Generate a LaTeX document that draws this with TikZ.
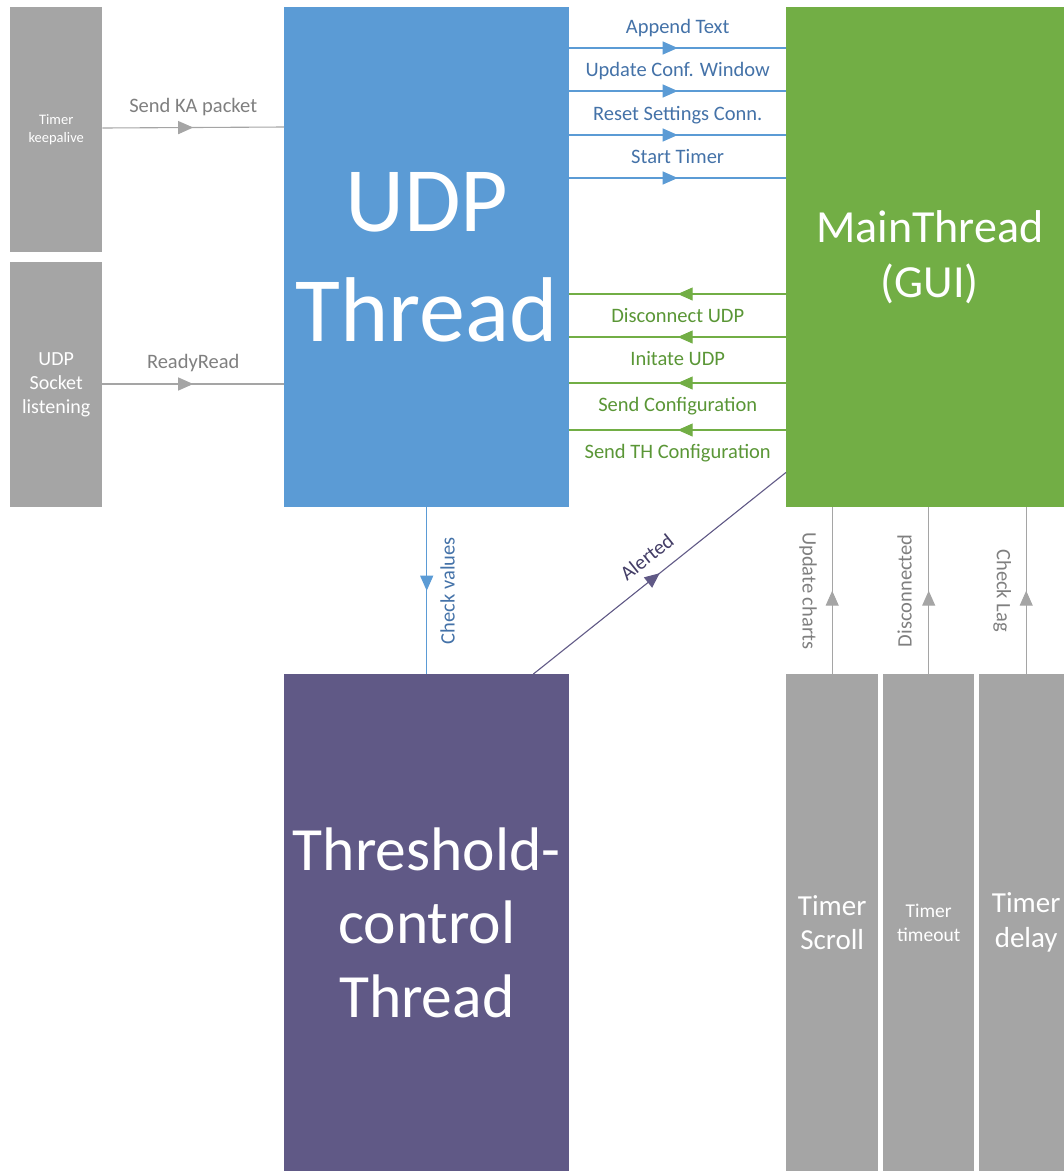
\documentclass[tikz,border=0pt]{standalone}
\usepackage{fontspec}
\setmainfont{Carlito}
\usetikzlibrary{arrows.meta,decorations.markings}

\definecolor{udpblue}{HTML}{5B9BD5}
\definecolor{bluetext}{HTML}{4472A8}
\definecolor{guigreen}{HTML}{72AE45}
\definecolor{greentext}{HTML}{5A9636}
\definecolor{timergray}{HTML}{A5A5A5}
\definecolor{graytext}{HTML}{7F7F7F}
\definecolor{thpurple}{HTML}{605986}
\definecolor{purpletext}{HTML}{433D66}

\newcommand{\fsz}[1]{\fontsize{#1pt}{1.2\dimexpr #1pt\relax}\selectfont}

\tikzset{
  block/.style={draw=none, inner sep=0pt, anchor=north west, text=white, align=center},
  midtip/.style={postaction={decorate}, decoration={markings,
      mark=at position 0.5 with {\arrow{Triangle[length=15pt,width=13pt]}}}},
  signal/.style={line width=1.1pt, midtip},
  lbl/.style={font=\fsz{20.5}, inner sep=0pt},
}

\begin{document}
\begin{tikzpicture}[x=1pt, y=-1pt]
\useasboundingbox (0,0) rectangle (1064,1171);
\clip (0,0) rectangle (1064,1171);

% thread blocks
\node[block, fill=udpblue, minimum width=285pt, minimum height=500pt, font=\fsz{92}]
  (udp) at (284,7) {UDP\\Thread};
\node[block, fill=guigreen, minimum width=287pt, minimum height=500pt, font=\fsz{46}]
  (gui) at (786,7) {MainThread\\(GUI)};
\node[block, fill=thpurple, minimum width=285pt, minimum height=497pt, font=\fsz{61.5}]
  (thr) at (284,674) {Threshold-\\control\\Thread};

% timers and socket feeding the UDP thread
\node[block, fill=timergray, minimum width=92pt, minimum height=245pt, font=\fsz{14.5}]
  (ka) at (10,7) {Timer\\keepalive};
\node[block, fill=timergray, minimum width=92pt, minimum height=245pt, font=\fsz{20}]
  (sock) at (10,262) {UDP\\Socket\\listening};

% timers feeding the main thread
\node[block, fill=timergray, minimum width=92pt, minimum height=497pt, font=\fsz{29}]
  (tscroll) at (786,674) {Timer\\Scroll};
\node[block, fill=timergray, minimum width=91pt, minimum height=497pt, font=\fsz{19.5}]
  (ttimeout) at (883,674) {Timer\\timeout};
\node[block, fill=timergray, minimum width=94pt, minimum height=497pt, font=\fsz{29}]
  (tdelay) at (979,674) {Timer\\delay};

% inputs of the UDP thread
\draw[signal, timergray] ([yshift=-121pt]ka.north east) -- ([yshift=-120pt]udp.north west)
  node[lbl, midway, anchor=base, yshift=15pt, text=graytext] {Send KA packet};
\draw[signal, timergray] ([yshift=-122pt]sock.north east) -- ([yshift=-377pt]udp.north west)
  node[lbl, midway, anchor=base, yshift=16pt, text=graytext] {ReadyRead};

% UDP thread -> main thread
\foreach \dy/\txt in {41/Append Text, 84/Update Conf. Window, 128/Reset Settings Conn., 171/Start Timer}
  \draw[signal, udpblue] ([yshift=-\dy pt]udp.north east) -- ([yshift=-\dy pt]gui.north west)
    node[lbl, midway, anchor=base, yshift=15pt, text=bluetext] {\txt};

% main thread -> UDP thread
\foreach \dy/\txt in {287/Disconnect UDP, 330/Initate UDP, 376/Send Configuration, 423/Send TH Configuration}
  \draw[signal, guigreen] ([yshift=-\dy pt]gui.north west) -- ([yshift=-\dy pt]udp.north east)
    node[lbl, midway, anchor=base, yshift=-28.5pt, text=greentext] {\txt};

% UDP thread -> threshold control
\draw[signal, udpblue] (udp.south) -- (thr.north)
  node[lbl, midway, xshift=21pt, rotate=90, text=bluetext] {Check values};

% threshold control -> main thread
\draw[signal, thpurple] ([xshift=-36pt]thr.north east) -- ([yshift=35pt]gui.south west)
  node[lbl, midway, sloped, above=13pt, text=purpletext] {Alerted};

% timers -> main thread
\draw[signal, timergray] (tscroll.north) -- (tscroll.north |- gui.south)
  node[lbl, midway, xshift=-24pt, rotate=-90, text=graytext] {Update charts};
\draw[signal, timergray] (ttimeout.north) -- (ttimeout.north |- gui.south)
  node[lbl, midway, xshift=-24pt, rotate=90, text=graytext] {Disconnected};
\draw[signal, timergray] (tdelay.north) -- (tdelay.north |- gui.south)
  node[lbl, midway, xshift=-24pt, rotate=-90, text=graytext] {Check Lag};
\end{tikzpicture}
\end{document}
